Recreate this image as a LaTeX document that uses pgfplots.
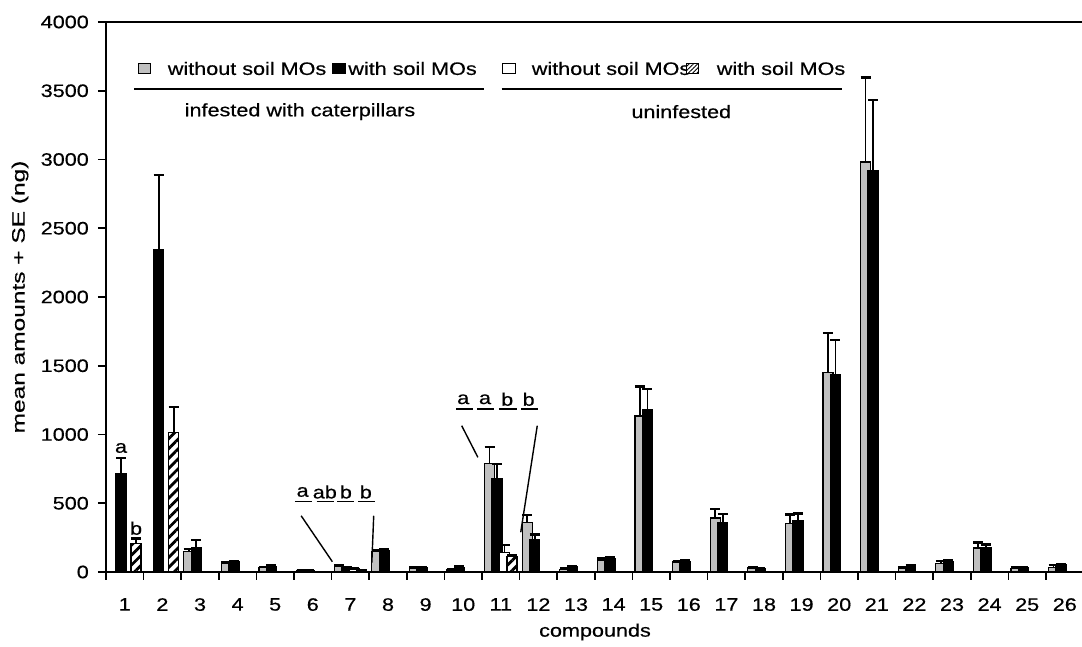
\documentclass[border=0pt]{standalone}
\usepackage{pgfplots}
\pgfplotsset{compat=1.18}
\usetikzlibrary{patterns.meta}
\usepackage{fontspec}
\setmainfont[FakeStretch=1.2,FakeBold=0.5]{Liberation Sans}
\newfontfamily\ylabfont[FakeStretch=1.36,FakeBold=0.5]{Liberation Sans}
\definecolor{silv}{RGB}{192,192,192}
\begin{document}
\fontsize{18}{21}\selectfont
\begin{tikzpicture}
\begin{axis}[
  at={(0,0)}, anchor=south west,
  scale only axis, width=977.6pt, height=550pt,
  xmin=0.5, xmax=26.5, ymin=0, ymax=4000,
  axis line style={line width=2pt},
  xtick={0.5,1.5,...,26.5},
  x tick label as interval,
  xticklabels={1,2,3,4,5,6,7,8,9,10,11,12,13,14,15,16,17,18,19,20,21,22,23,24,25,26},
  ytick={0,500,...,4000},
  tick pos=left, tick align=outside, major tick length=8pt,
  tick style={line width=1.6pt, black},
  /pgf/number format/assume math mode=true,
  /pgf/number format/1000 sep={},
  yticklabel style={anchor=east, inner sep=0pt, xshift=-9pt},
  xticklabel style={anchor=north, inner sep=0pt, yshift=-18pt},
  ybar, bar width=10pt,
  clip=false,
  every axis plot/.append style={draw=black, line width=1.3pt},
  error bars/error bar style={line width=1.8pt, black},
  error bars/error mark options={rotate=90, mark size=5pt, line width=2.4pt, black},
]
\coordinate (O) at (rel axis cs:0,0);
% infested, without soil MOs (gray)
\addplot[fill=silv, bar shift=-11.25pt, error bars/.cd, y dir=plus, y explicit] coordinates {
(3,148) +- (0,20) (4,62) +- (0,8) (5,32) +- (0,5) (6,8) +- (0,3) (7,42) +- (0,6)
(8,148) +- (0,10) (9,30) +- (0,5) (10,15) +- (0,5) (11,790) +- (0,121) (12,361) +- (0,54)
(13,20) +- (0,4) (14,87) +- (0,12) (15,1135) +- (0,213) (16,72) +- (0,8) (17,393) +- (0,63)
(18,30) +- (0,4) (19,354) +- (0,63) (20,1452) +- (0,286) (21,2982) +- (0,613) (22,27) +- (0,10)
(23,63) +- (0,15) (24,175) +- (0,40) (25,25) +- (0,8) (26,34) +- (0,15)
};
% infested, with soil MOs (black)
\addplot[fill=black, bar shift=-3.75pt, error bars/.cd, y dir=plus, y explicit] coordinates {
(1,718) +- (0,113) (2,2342) +- (0,545) (3,180) +- (0,53) (4,72) +- (0,8) (5,42) +- (0,6)
(6,10) +- (0,3) (7,30) +- (0,5) (8,155) +- (0,10) (9,28) +- (0,5) (10,35) +- (0,10)
(11,676) +- (0,109) (12,238) +- (0,36) (13,37) +- (0,8) (14,98) +- (0,10) (15,1183) +- (0,148)
(16,78) +- (0,6) (17,356) +- (0,66) (18,22) +- (0,4) (19,373) +- (0,51) (20,1438) +- (0,249)
(21,2919) +- (0,512) (22,42) +- (0,6) (23,78) +- (0,6) (24,180) +- (0,20) (25,32) +- (0,6)
(26,52) +- (0,5)
};
% uninfested, without soil MOs (white)
\addplot[fill=white, bar shift=3.75pt, error bars/.cd, y dir=plus, y explicit] coordinates {
(7,22) +- (0,3) (11,143) +- (0,53)
};
% uninfested, with soil MOs (hatched)
\addplot[fill=white, postaction={pattern={Lines[angle=45,distance=7pt,line width=2.8pt]}, pattern color=black}, bar shift=11.25pt, error bars/.cd, y dir=plus, y explicit] coordinates {
(1,209) +- (0,36) (2,1013) +- (0,187) (7,12) +- (0,2) (11,111) +- (0,10)
};
% letters cat 1
\node at (axis cs:0.9,902) {a};
\node at (axis cs:1.3,318) {b};
% letters cat 6/7
\node at (axis cs:5.73,582) {a};
\node at (axis cs:6.32,582) {ab};
\node at (axis cs:6.88,582) {b};
\node at (axis cs:7.41,582) {b};
\draw[line width=1.4pt] (axis cs:5.52,511) -- (axis cs:5.98,511);
\draw[line width=1.4pt] (axis cs:6.10,511) -- (axis cs:6.56,511);
\draw[line width=1.4pt] (axis cs:6.65,511) -- (axis cs:7.10,511);
\draw[line width=1.4pt] (axis cs:7.20,511) -- (axis cs:7.65,511);
\draw[line width=1.4pt] (axis cs:5.69,409) -- (axis cs:6.52,75);
\draw[line width=1.4pt] (axis cs:7.62,409) -- (axis cs:7.57,68);
% letters cat 11
\node at (axis cs:10.00,1256) {a};
\node at (axis cs:10.58,1256) {a};
\node at (axis cs:11.17,1256) {b};
\node at (axis cs:11.74,1256) {b};
\draw[line width=1.4pt] (axis cs:9.81,1185) -- (axis cs:10.25,1185);
\draw[line width=1.4pt] (axis cs:10.37,1185) -- (axis cs:10.81,1185);
\draw[line width=1.4pt] (axis cs:10.95,1185) -- (axis cs:11.42,1185);
\draw[line width=1.4pt] (axis cs:11.54,1185) -- (axis cs:12.00,1185);
\draw[line width=1.4pt] (axis cs:9.96,1064) -- (axis cs:10.39,834);
\draw[line width=1.4pt] (axis cs:11.97,1064) -- (axis cs:11.53,289);
% legend
\draw[line width=1pt, fill=silv] (axis cs:1.36,3627) rectangle (axis cs:1.69,3700);
\node[anchor=west, inner sep=0pt] at (axis cs:2.14,3662) {without soil MOs};
\draw[line width=1pt, fill=black] (axis cs:6.52,3627) rectangle (axis cs:6.88,3700);
\node[anchor=west, inner sep=0pt] at (axis cs:6.94,3662) {with soil MOs};
\draw[line width=1.6pt] (axis cs:1.245,3511) -- (axis cs:10.56,3511);
\node at (axis cs:5.66,3348) {infested with caterpillars};
\draw[line width=1pt, fill=white] (axis cs:11.05,3627) rectangle (axis cs:11.38,3700);
\node[anchor=west, inner sep=0pt] at (axis cs:11.82,3662) {without soil MOs};
\draw[line width=1pt, fill=white, postaction={pattern={Lines[angle=45,distance=3pt,line width=0.9pt]}, pattern color=black}] (axis cs:15.94,3627) rectangle (axis cs:16.26,3700);
\node[anchor=west, inner sep=0pt] at (axis cs:16.74,3662) {with soil MOs};
\draw[line width=1.6pt] (axis cs:11.02,3511) -- (axis cs:20.08,3511);
\node at (axis cs:15.80,3348) {uninfested};
\end{axis}
\node[rotate=90, font=\ylabfont] at ([shift={(-86pt,275pt)}]O) {mean amounts + SE (ng)};
\node at ([shift={(489pt,-60pt)}]O) {compounds};
\pgfresetboundingbox
\useasboundingbox ([shift={(-106pt,-75pt)}]O) rectangle ([shift={(976pt,572pt)}]O);
\end{tikzpicture}
\end{document}
